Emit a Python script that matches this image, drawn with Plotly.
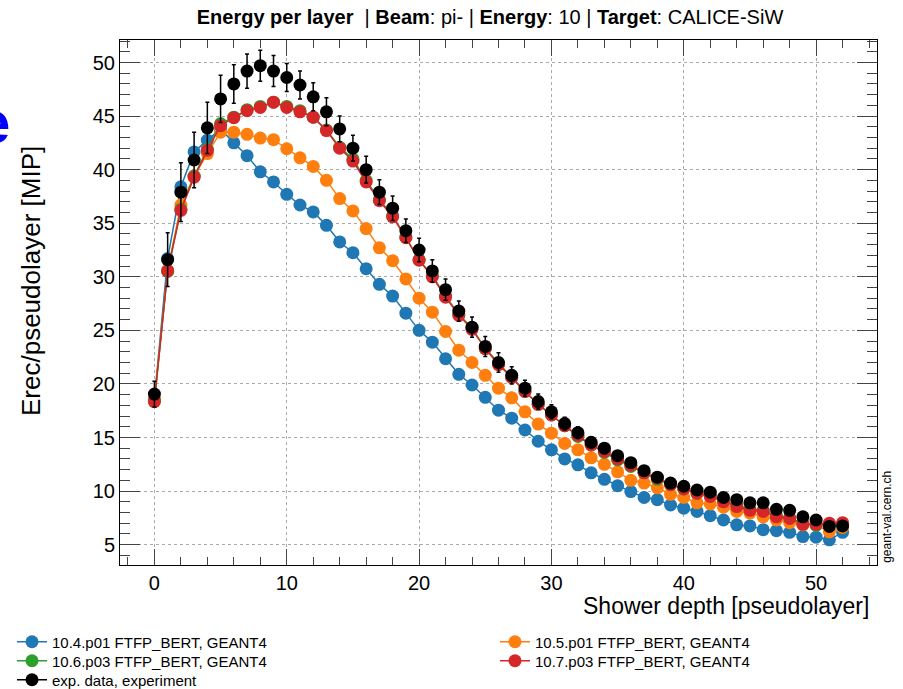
import plotly.graph_objects as go

layers = list(range(53))

g104 = [18.6, 31.7, 38.4, 41.65, 42.75, 43.8, 42.5, 41.3, 39.8, 38.85,
        37.7, 36.7, 36.05, 34.8, 33.25, 32.25, 30.75, 29.3, 28.2, 26.6,
        25.0, 23.9, 22.35, 20.9, 19.9, 18.75, 17.55, 16.8, 15.7, 14.65,
        13.85, 13.0, 12.45, 11.7, 11.1, 10.5, 9.95, 9.4, 9.2, 8.7,
        8.4, 8.1, 7.7, 7.3, 6.85, 6.75, 6.4, 6.3, 6.15, 5.75,
        5.7, 5.45, 6.15]

g105 = [18.55, 30.6, 36.7, 39.4, 41.5, 43.5, 43.5, 43.3, 42.95, 42.8,
        41.95, 41.1, 40.3, 39.0, 37.3, 36.15, 34.5, 32.7, 31.5, 29.8,
        28.0, 26.7, 24.9, 23.15, 22.0, 20.8, 19.6, 18.7, 17.4, 16.25,
        15.4, 14.45, 13.85, 13.1, 12.5, 11.8, 11.0, 10.75, 10.3, 9.7,
        9.4, 8.9, 8.8, 8.5, 8.1, 7.95, 7.6, 7.3, 7.05, 6.85,
        6.85, 6.2, 6.6]

g106 = [18.4, 30.5, 36.3, 39.4, 41.9, 44.3, 44.9, 45.6, 45.9, 46.3,
        45.9, 45.5, 44.9, 43.7, 42.1, 41.0, 39.0, 37.2, 35.7, 33.7,
        31.6, 30.1, 28.2, 26.5, 25.2, 23.3, 21.9, 20.6, 19.3, 18.1,
        17.1, 16.1, 15.1, 14.3, 13.6, 12.9, 12.3, 11.7, 11.1, 10.6,
        10.2, 9.8, 9.6, 9.1, 8.7, 8.3, 8.2, 7.7, 7.5, 7.0,
        6.8, 6.9, 6.9]

g107 = [18.35, 30.55, 36.2, 39.3, 41.8, 44.1, 44.85, 45.5, 45.8, 46.3,
        45.8, 45.4, 44.9, 43.65, 42.0, 40.8, 38.85, 37.1, 35.6, 33.65,
        31.55, 30.0, 28.1, 26.4, 25.1, 23.3, 21.8, 20.6, 19.3, 18.1,
        17.1, 16.1, 15.2, 14.3, 13.7, 13.0, 12.4, 11.7, 11.2, 10.6,
        10.2, 9.8, 9.5, 9.0, 8.55, 8.2, 8.1, 7.6, 7.45, 6.9,
        6.9, 7.0, 7.05]

exp_val = [19.05, 31.6, 37.9, 40.9, 43.9, 46.6, 48.0, 49.2, 49.7, 49.2,
           48.6, 47.9, 46.8, 45.4, 43.8, 42.0, 40.0, 37.9, 36.4, 34.3,
           32.5, 30.55, 28.8, 26.8, 25.3, 23.5, 22.0, 20.8, 19.6, 18.35,
           17.4, 16.3, 15.45, 14.55, 14.0, 13.3, 12.65, 11.9, 11.3, 10.75,
           10.45, 10.1, 9.9, 9.4, 9.2, 8.9, 8.9, 8.3, 8.2, 7.6,
           7.3, 6.7, 6.75]

exp_err = [1.2, 2.5, 2.75, 2.6, 2.4, 2.2, 1.8, 1.6, 1.45, 1.45,
           1.3, 1.3, 1.3, 1.3, 1.2, 1.2, 1.25, 1.15, 1.15, 1.1,
           1.1, 1.05, 1.0, 0.95, 0.95, 0.93, 0.9, 0.8, 0.75, 0.7,
           0.65, 0.6, 0.55, 0.5, 0.5, 0.45, 0.45, 0.4, 0.4, 0.35,
           0.35, 0.35, 0.3, 0.3, 0.3, 0.3, 0.3, 0.3, 0.3, 0.3,
           0.3, 0.3, 0.3]

series = [
    ("10.4.p01 FTFP_BERT, GEANT4", g104, "#1f77b4", "legend"),
    ("10.5.p01 FTFP_BERT, GEANT4", g105, "#ff7f0e", "legend2"),
    ("10.6.p03 FTFP_BERT, GEANT4", g106, "#2ca02c", "legend3"),
    ("10.7.p03 FTFP_BERT, GEANT4", g107, "#d62728", "legend4"),
]

fig = go.Figure()
for name, vals, col, lg in series:
    fig.add_trace(go.Scatter(
        x=layers, y=vals, name=name, mode="lines+markers",
        line=dict(color=col, width=1.5),
        marker=dict(color=col, size=13),
        legend=lg,
    ))

fig.add_trace(go.Scatter(
    x=layers, y=exp_val, name="exp. data, experiment", mode="markers",
    marker=dict(color="black", size=13),
    error_y=dict(type="data", array=exp_err, color="black", thickness=1.5, width=2),
    showlegend=False,
))
# legend entry for the experimental data (line + marker symbol)
fig.add_trace(go.Scatter(
    x=[None], y=[None], name="exp. data, experiment", mode="lines+markers",
    line=dict(color="black", width=1.5), marker=dict(color="black", size=13),
    legend="legend5",
))

FONT = "Liberation Sans, Arial, sans-serif"
tickfont = dict(family=FONT, size=20, color="black")

fig.update_xaxes(
    range=[-2.6, 54.6], tickmode="linear", tick0=0, dtick=10,
    ticks="inside", ticklen=16, tickwidth=1, tickcolor="#444",
    minor=dict(ticks="inside", ticklen=8, dtick=2, tickcolor="#444", showgrid=False),
    showline=True, linecolor="black", linewidth=1, mirror="allticks",
    showgrid=True, gridcolor="#aaaaaa", griddash="dot", gridwidth=1,
    zeroline=False, tickfont=tickfont,
)
fig.update_yaxes(
    range=[3.1, 52.1], tickmode="linear", tick0=0, dtick=5,
    ticks="inside", ticklen=20, tickwidth=1, tickcolor="#444",
    minor=dict(ticks="inside", ticklen=10, dtick=1, tickcolor="#444", showgrid=False),
    showline=True, linecolor="black", linewidth=1, mirror="allticks",
    showgrid=True, gridcolor="#aaaaaa", griddash="dot", gridwidth=1,
    zeroline=False, tickfont=tickfont,
)

legfont = dict(family=FONT, size=15, color="black")


def leg(xpix, ypix):
    return dict(
        x=(xpix - 120) / 757, xanchor="left",
        y=(565 - ypix) / 525, yanchor="middle",
        orientation="v", font=legfont, tracegroupgap=0,
        bgcolor="rgba(0,0,0,0)", itemwidth=30,
    )


fig.update_layout(
    width=903, height=689,
    margin=dict(l=120, r=26, t=40, b=124, autoexpand=False),
    plot_bgcolor="white", paper_bgcolor="white",
    title=dict(
        text="<b>Energy per layer</b>  | <b>Beam</b>: pi- | <b>Energy</b>: 10 | <b>Target</b>: CALICE-SiW",
        xref="container", x=490 / 903, xanchor="center", y=0.975, yanchor="middle",
        font=dict(family=FONT, size=20, color="black"),
    ),
    legend=leg(12, 642),
    legend2=leg(495, 642),
    legend3=leg(12, 661),
    legend4=leg(495, 661),
    legend5=leg(12, 680),
    showlegend=True,
    annotations=[
        dict(text="Shower depth [pseudolayer]", xref="paper", yref="paper",
             x=(871 - 120) / 757, y=(565 - 606) / 525, xanchor="right", yanchor="middle",
             showarrow=False, font=dict(family=FONT, size=23, color="black")),
        dict(text="Erec/pseudolayer [MIP]", xref="paper", yref="paper",
             x=(31 - 120) / 757, y=(565 - 281) / 525, xanchor="center", yanchor="middle",
             textangle=-90, showarrow=False, font=dict(family=FONT, size=26, color="black")),
        dict(text="geant-val.cern.ch", xref="paper", yref="paper",
             x=1.013, y=0.0, xanchor="center", yanchor="bottom",
             textangle=-90, showarrow=False,
             font=dict(family=FONT, size=12, color="black")),
        dict(text="<b>e</b>", xref="paper", yref="paper",
             x=(12 - 120) / 757, y=0.842, xanchor="right", yanchor="middle",
             showarrow=False,
             font=dict(family=FONT, size=60, color="blue")),
    ],
)

fig.write_html("out.html")
